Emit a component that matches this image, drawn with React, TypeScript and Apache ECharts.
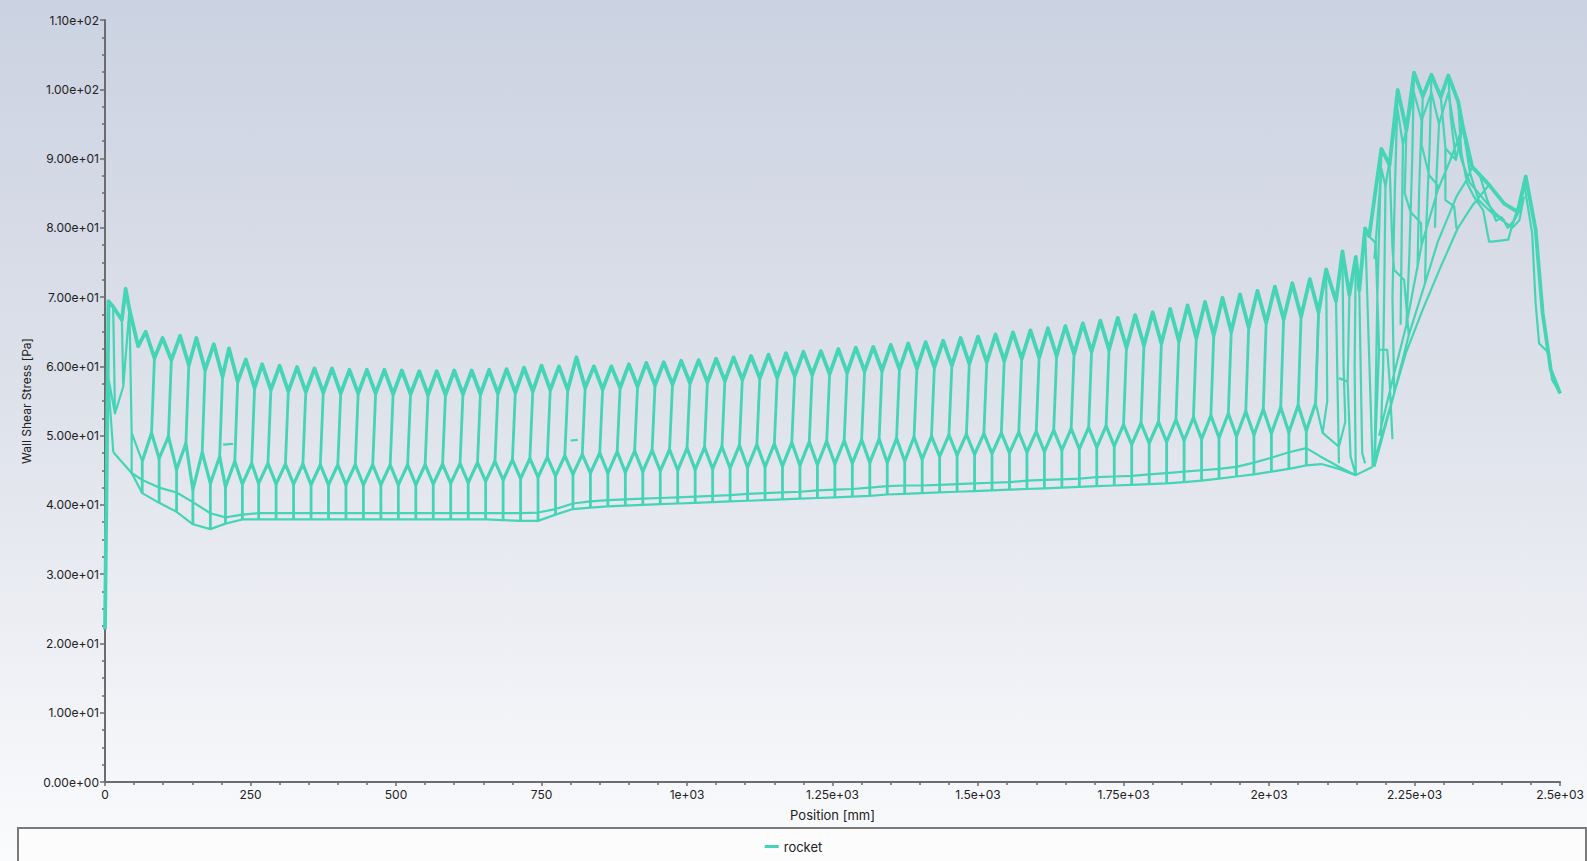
import React, { useEffect, useRef } from 'react';
import * as echarts from 'echarts';

type Pt = [number, number];

// ---------- axis tick labels ----------
const xTickLabels = ['0', '250', '500', '750', '1e+03', '1.25e+03', '1.5e+03', '1.75e+03', '2e+03', '2.25e+03', '2.5e+03'];
const yTickLabels = ['0.00e+00', '1.00e+01', '2.00e+01', '3.00e+01', '4.00e+01', '5.00e+01', '6.00e+01', '7.00e+01', '8.00e+01', '9.00e+01', '1.00e+02', '1.10e+02'];

// ---------- repeating surface cells (Position [mm], Wall Shear Stress [Pa]) ----------
const peakX = [70, 99, 129, 157, 187, 213, 242, 270, 300, 330, 360, 390, 420, 450, 480, 510, 540, 570, 600, 630, 660, 690, 720, 750, 780, 810, 840,
  870, 900, 930, 960, 990, 1020, 1050, 1080, 1110, 1140, 1170, 1200, 1230, 1260, 1290, 1320, 1350, 1380, 1410, 1440, 1470, 1500, 1530, 1560, 1590, 1620,
  1650, 1680, 1710, 1740, 1770, 1800, 1830, 1860, 1890, 1920, 1950, 1980, 2010, 2040, 2070];
const peakY = [65.0, 64.1, 64.4, 64.1, 63.2, 62.6, 61.0,
  60.3, 60.1, 59.9, 59.7, 59.7, 59.5, 59.5, 59.5, 59.4, 59.3, 59.3, 59.4, 59.4, 59.5, 59.6, 59.8, 60.1, 60.0, 61.3, 60.0,
  60.0, 60.3, 60.5, 60.6, 60.8, 60.9, 61.1, 61.3, 61.5, 61.7, 61.9, 62.1, 62.2, 62.5, 62.7, 62.8, 63.1, 63.3, 63.5, 63.7,
  64.1, 64.3, 64.6, 64.9, 65.2, 65.5, 65.8, 66.2, 66.6, 67.0, 67.4, 67.8, 68.3, 68.8, 69.3, 69.9, 70.4, 70.9, 71.5, 72.0, 72.6];
const troughY = [61.2, 60.9, 60.2, 59.5, 58.5, 57.8, 56.9,
  56.6, 56.4, 56.3, 56.2, 56.1, 56.1, 56.1, 56.0, 56.0, 55.9, 55.9, 56.0, 56.0, 56.1, 56.2, 56.4, 56.6, 56.6, 56.9, 56.7,
  56.9, 57.1, 57.3, 57.4, 57.6, 57.7, 57.9, 58.1, 58.3, 58.4, 58.6, 58.8, 58.9, 59.1, 59.3, 59.4, 59.6, 59.7, 59.9, 60.1,
  60.4, 60.6, 60.8, 61.1, 61.3, 61.5, 61.8, 62.1, 62.4, 62.7, 63.0, 63.3, 63.7, 64.1, 64.5, 65.0, 65.6, 66.3, 66.8, 67.2, 67.8];
const ridgeY = [50.4, 49.9, 48.9, 47.6, 47.0, 46.3, 46.0,
  46.0, 45.9, 45.9, 45.8, 45.8, 45.8, 45.8, 45.8, 45.8, 45.8, 45.9, 46.0, 46.1, 46.3, 46.5, 46.7, 46.9, 47.1, 47.3, 47.5,
  47.7, 47.8, 47.9, 48.0, 48.2, 48.3, 48.4, 48.6, 48.7, 48.8, 49.0, 49.1, 49.2, 49.3, 49.4, 49.5, 49.6, 49.8, 49.9,
  50.1, 50.2, 50.3, 50.4, 50.5, 50.6, 50.8, 51.0, 51.2, 51.4, 51.6, 51.8, 52.0, 52.3, 52.6, 52.9, 53.2, 53.5, 53.8, 54.1, 54.4, 54.7];
const valleyY = [46.3, 46.7, 45.1, 42.2, 43.1, 42.6, 43.0,
  43.1, 43.0, 43.0, 42.9, 42.9, 42.9, 42.9, 42.9, 42.9, 42.9, 43.0, 43.1, 43.2, 43.4, 43.6, 43.8, 44.0, 44.2, 44.4, 44.6,
  44.6, 44.7, 44.8, 44.9, 45.0, 45.1, 45.2, 45.3, 45.4, 45.5, 45.6, 45.7, 45.8, 45.9, 46.0, 46.1, 46.1, 46.3, 46.6,
  47.0, 47.2, 47.3, 47.4, 47.5, 47.6, 47.7, 47.9, 48.1, 48.3, 48.5, 48.7, 48.9, 49.1, 49.3, 49.5, 49.7, 49.9, 50.1, 50.3, 50.5, 50.7];
const shelfY = [43.6, 42.5, 41.8, 40.4, 38.8, 38.2, 38.6,
  38.8, 38.8, 38.8, 38.8, 38.8, 38.8, 38.8, 38.8, 38.8, 38.8, 38.8, 38.8, 38.8, 38.8, 38.8, 38.8, 38.9, 39.4, 40.2, 40.5,
  40.7, 40.8, 40.9, 41.0, 41.1, 41.2, 41.3, 41.4, 41.6, 41.7, 41.8, 41.9, 42.1, 42.2, 42.3, 42.5, 42.7, 42.8, 42.8,
  42.9, 43.0, 43.1, 43.2, 43.3, 43.5, 43.6, 43.7, 43.8, 44.0, 44.1, 44.2, 44.4, 44.6, 44.8, 45.0, 45.2, 45.5, 46.1, 46.8, 47.6, 48.2];
const footY = [41.7, 40.3, 39.0, 37.2, 36.5, 37.3, 37.9,
  37.9, 37.9, 37.9, 37.9, 37.9, 37.9, 37.9, 37.9, 37.9, 37.9, 37.9, 37.9, 37.9, 37.9, 37.8, 37.7, 37.7, 38.6, 39.4, 39.6,
  39.8, 39.9, 40.0, 40.1, 40.2, 40.3, 40.4, 40.5, 40.6, 40.7, 40.8, 40.9, 41.0, 41.1, 41.2, 41.3, 41.5, 41.6, 41.7,
  41.8, 41.9, 42.0, 42.1, 42.2, 42.3, 42.4, 42.5, 42.6, 42.7, 42.8, 42.9, 43.0, 43.1, 43.3, 43.5, 43.8, 44.1, 44.4, 44.8, 45.2, 45.7];
// offsets (mm) of a cell's mesh nodes from its upper peak
const TROUGH_DX = 15;
const RIDGE_DX = 10;
const VALLEY_DX = -6;

// ---------- leading edge ----------
const earlyTop: Pt[] = [[0, 22.0], [6, 69.4], [14, 68.6], [29, 66.7], [35.5, 71.2], [42, 68.2], [57, 62.9]];
const earlyLinks: Pt[][] = [
  [[6, 69.4], [4.6, 58.8], [14.3, 47.6]],
  [[4.6, 58.8], [17.2, 53.2], [31.4, 57.1], [42, 68.2]],
  [[14, 68.6], [17.2, 53.2]],
  [[29, 66.7], [31.4, 57.1]],
  [[42, 68.2], [45.8, 50.4], [45.8, 44.6]],
  [[45.8, 50.4], [64, 46.3]],
  [[203, 48.7], [220, 48.8]],
  [[800, 49.3], [812, 49.4]],
];
const earlyShelf: Pt[] = [[14.3, 47.6], [45.8, 44.6]];
const earlyFoot: Pt[] = [[45.8, 44.6]];

// ---------- nozzle / tail region ----------
const tailUpper: Pt[] = [[2085, 67.8], [2098, 74.0], [2115, 69.4], [2126, 76.6], [2138, 70.3], [2149, 75.8], [2155, 71.0], [2165, 79.9],
  [2172, 78.8], [2193, 91.4], [2207, 89.1], [2221, 99.9], [2236, 94.1], [2249, 102.4], [2264, 99.0], [2279, 102.1], [2295, 98.9],
  [2308, 102.0], [2325, 98.2], [2333, 94.6], [2349, 88.8], [2378, 86.2], [2404, 83.5], [2427, 82.3], [2441, 87.4], [2458, 79.7],
  [2470, 67.7], [2484, 59.5], [2500, 56.1]];
const tailInner: Pt[] = [[2181, 75.5], [2193, 88.5], [2200, 86.0], [2221, 97.0], [2230, 92.0], [2249, 99.5], [2262, 95.5], [2279, 99.5],
  [2292, 95.0], [2308, 99.5], [2318, 94.5], [2330, 90.0], [2345, 86.5], [2365, 84.5], [2390, 82.0], [2405, 81.0]];
const tailLinks: Pt[][] = [
  [[2085, 67.8], [2080, 54.7], [2092, 50.4], [2120, 48.4]],
  [[2098, 74.0], [2100, 55.0], [2092, 50.4]],
  [[2115, 69.4], [2120, 46.0]],
  [[2126, 76.6], [2128, 60.0], [2131, 52.0], [2120, 48.4]],
  [[2138, 70.3], [2135, 57.8], [2120, 58.3]],
  [[2135, 57.8], [2140, 47.0], [2149, 44.3]],
  [[2149, 75.8], [2147, 60.0], [2149, 44.3]],
  [[2155, 71.0], [2160, 47.5], [2165, 46.0]],
  [[2165, 79.9], [2178, 45.5]],
  [[2172, 78.8], [2183, 77.8], [2189, 62.4], [2181, 45.5]],
  [[2193, 91.4], [2186, 70.0], [2183, 55.0], [2181, 45.5]],
  [[2189, 62.4], [2203, 62.4], [2207, 58.0], [2212, 49.5]],
  [[2200, 86.0], [2198, 72.0], [2196, 60.0], [2192, 50.0]],
  [[2207, 89.1], [2212, 77.0], [2215, 73.9], [2232, 72.5], [2240, 64.5]],
  [[2221, 99.9], [2216, 85.0], [2212, 70.0], [2215, 56.1]],
  [[2230, 92.0], [2228, 80.0], [2226, 66.0]],
  [[2236, 94.1], [2233, 85.0], [2243, 82.3], [2261, 80.7], [2262, 77.5]],
  [[2249, 102.4], [2246, 90.0], [2241, 76.0], [2236, 66.0]],
  [[2262, 95.5], [2258, 86.0], [2255, 74.0]],
  [[2264, 99.0], [2262, 92.0], [2275, 87.6], [2289, 86.2], [2290, 85.5]],
  [[2279, 102.1], [2276, 92.0], [2270, 80.0], [2268, 72.0]],
  [[2292, 95.0], [2288, 88.0], [2285, 80.0]],
  [[2295, 98.9], [2303, 91.5], [2321, 89.8], [2333, 94.6]],
  [[2303, 91.5], [2303, 84.0], [2318, 83.1], [2322, 79.9]],
  [[2308, 102.0], [2312, 96.0], [2321, 89.8]],
  [[2178, 45.5], [2235, 61.9], [2264, 68.2], [2295, 74.4], [2324, 79.9], [2350, 83.3], [2378, 86.2]],
  [[2181, 45.5], [2215, 56.1], [2240, 64.5], [2268, 72.0], [2290, 78.0], [2322, 84.5], [2340, 87.0], [2349, 88.8]],
  [[2189, 50.0], [2212, 58.0], [2236, 66.0], [2262, 77.5], [2290, 85.5], [2310, 89.5], [2333, 94.6]],
  [[2325, 98.2], [2330, 91.0], [2340, 86.5], [2352, 84.5], [2368, 82.5], [2378, 78.0], [2383, 78.0], [2411, 78.3], [2418, 80.5], [2430, 82.5], [2441, 87.4]],
  [[2333, 94.6], [2345, 88.0], [2360, 84.0], [2372, 83.0], [2385, 82.0], [2402, 81.0], [2418, 80.0], [2430, 81.1], [2438, 84.5]],
  [[2349, 88.8], [2361, 87.9], [2375, 84.0], [2390, 81.0], [2400, 81.5], [2410, 80.0], [2420, 81.0], [2428, 83.0]],
  [[2430, 83.0], [2438, 86.5], [2452, 79.2], [2458, 69.1], [2464, 63.3], [2481, 61.9], [2486, 58.1], [2500, 56.1]],
];
const tailShelf: Pt[] = [[2088, 47.0], [2120, 45.5], [2149, 44.3], [2178, 45.5]];
const tailFoot: Pt[] = [[2090, 45.9], [2120, 45.2], [2149, 44.3]];

// ---------- build polylines ----------
const BREAK: any = ['-', '-'];
function joinLines(lines: Pt[][]): any[] {
  const out: any[] = [];
  lines.forEach((l, i) => {
    if (i > 0) out.push(BREAK);
    l.forEach((p) => out.push(p));
  });
  return out;
}

const upperLine: Pt[] = [...earlyTop];
const lowerZig: Pt[] = [];
const shelfLine: Pt[] = [...earlyShelf];
const footLine: Pt[] = [...earlyFoot];
const verticals: Pt[][] = [];
peakX.forEach((px, i) => {
  upperLine.push([px, peakY[i]], [px + TROUGH_DX, troughY[i]]);
  lowerZig.push([px + VALLEY_DX, valleyY[i]], [px + RIDGE_DX, ridgeY[i]]);
  shelfLine.push([px + VALLEY_DX, shelfY[i]]);
  footLine.push([px + VALLEY_DX, footY[i]]);
  verticals.push([[px + TROUGH_DX, troughY[i]], [px + RIDGE_DX, ridgeY[i]]]);
  verticals.push([[px + VALLEY_DX, valleyY[i]], [px + VALLEY_DX, footY[i]]]);
});
tailUpper.forEach((p) => upperLine.push(p));
tailShelf.forEach((p) => shelfLine.push(p));
tailFoot.forEach((p) => footLine.push(p));

const TEAL = '#45d4b5';
const FONT = 'Inter, "Noto Sans", "DejaVu Sans", sans-serif';
const AXIS_COLOR = '#6c6c6c';

function lineSeries(data: any[], width: number) {
  return {
    name: 'rocket',
    type: 'line',
    data,
    symbol: 'none',
    showSymbol: false,
    connectNulls: false,
    silent: true,
    animation: false,
    emphasis: { disabled: true },
    itemStyle: { color: TEAL },
    lineStyle: { color: TEAL, width, join: 'round' },
  };
}

export default function App() {
  const ref = useRef<HTMLDivElement>(null);
  useEffect(() => {
    if (!ref.current) return;
    const chart = echarts.init(ref.current, undefined, { renderer: 'svg' });
    chart.setOption({
      animation: false,
      backgroundColor: 'transparent',
      grid: { left: 105, right: 26, top: 20, bottom: 79, containLabel: false },
      graphic: [
        {
          type: 'rect',
          left: 17,
          top: 827,
          z: 0,
          shape: { width: 1568, height: 40 },
          style: { fill: '#fcfcfd', stroke: '#7a7a7a', lineWidth: 2 },
        },
      ],
      legend: {
        data: [{ name: 'rocket', icon: 'rect' }],
        left: 'center',
        top: 835,
        itemWidth: 14,
        itemHeight: 3,
        itemGap: 10,
        textStyle: { color: '#222', fontSize: 13, fontFamily: FONT },
        selectedMode: false,
      },
      xAxis: {
        type: 'value',
        min: 0,
        max: 2500,
        interval: 250,
        name: 'Position [mm]',
        nameLocation: 'middle',
        nameGap: 26,
        nameTextStyle: { color: '#222', fontSize: 13, fontFamily: FONT },
        axisLine: { show: true, onZero: false, lineStyle: { color: AXIS_COLOR, width: 2 } },
        axisTick: { show: true, length: 4, lineStyle: { color: AXIS_COLOR, width: 1.5 } },
        minorTick: { show: true, splitNumber: 5, length: 3, lineStyle: { color: AXIS_COLOR, width: 1.5 } },
        splitLine: { show: false },
        axisLabel: {
          color: '#222',
          fontSize: 12,
          fontFamily: FONT,
          margin: 6,
          formatter: (v: number) => xTickLabels[Math.round(v / 250)] ?? '',
        },
      },
      yAxis: {
        type: 'value',
        min: 0,
        max: 110,
        interval: 10,
        name: 'Wall Shear Stress [Pa]',
        nameLocation: 'middle',
        nameGap: 71,
        nameTextStyle: { color: '#222', fontSize: 12, fontFamily: FONT },
        axisLine: { show: true, onZero: false, lineStyle: { color: AXIS_COLOR, width: 2 } },
        axisTick: { show: true, length: 5, lineStyle: { color: AXIS_COLOR, width: 1.5 } },
        minorTick: { show: true, splitNumber: 4, length: 3, lineStyle: { color: AXIS_COLOR, width: 1.5 } },
        splitLine: { show: false },
        axisLabel: {
          color: '#222',
          fontSize: 12,
          fontFamily: FONT,
          margin: 6,
          formatter: (v: number) => yTickLabels[Math.round(v / 10)] ?? '',
        },
      },
      series: [
        lineSeries(upperLine, 3.8),
        lineSeries(tailInner, 2.2),
        lineSeries(lowerZig, 3.2),
        lineSeries(joinLines(verticals), 2.8),
        lineSeries(shelfLine, 2.2),
        lineSeries(footLine, 2.2),
        lineSeries(joinLines(earlyLinks), 2.2),
        lineSeries(joinLines(tailLinks), 2.2),
      ],
    });
    return () => chart.dispose();
  }, []);

  return (
    <div
      style={{
        position: 'fixed',
        left: 0,
        top: 0,
        width: 1587,
        height: 861,
        background: 'linear-gradient(180deg, #cbd2e1 0%, #dde1ea 45%, #f3f4f8 85%, #fafbfc 100%)',
      }}
    >
      <div ref={ref} style={{ width: 1587, height: 861 }} />
    </div>
  );
}
